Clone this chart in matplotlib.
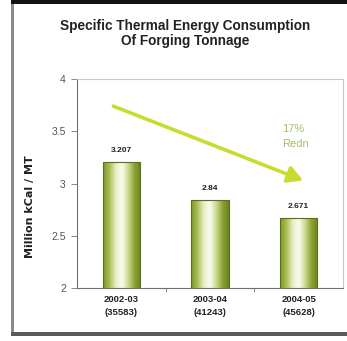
import matplotlib.pyplot as plt
import numpy as np
from matplotlib.colors import LinearSegmentedColormap
from matplotlib.patches import Rectangle

# Данные
years = ['2002-03\n(35583)', '2003-04\n(41243)', '2004-05\n(45628)']
consumption = [3.207, 2.84, 2.671]
value_labels = ['3.207', '2.84', '2.671']

W, H = 347, 341
fig = plt.figure(figsize=(W / 100, H / 100), dpi=100)
fig.patch.set_facecolor('white')
plt.rcParams['font.family'] = ['Liberation Sans', 'DejaVu Sans']

# рамка вокруг картинки
fig.add_artist(Rectangle((11 / W, 1 - 4 / H), 1 - 11 / W, 4 / H,
                         transform=fig.transFigure, color='#111111', lw=0))
fig.add_artist(Rectangle((11 / W, 5 / H), 2.5 / W, 1 - 9 / H,
                         transform=fig.transFigure, color='#8a8a8a', lw=0))
fig.add_artist(Rectangle((11 / W, 5 / H), 1 - 11 / W, 4 / H,
                         transform=fig.transFigure, color='#5a5a5a', lw=0))

ax = fig.add_axes([77 / W, (H - 288) / H, (343 - 77) / W, (288 - 79) / H])
x = np.arange(len(years))
bar_width = 0.42

bars = ax.bar(x, consumption, bar_width, bottom=0, color='none',
              edgecolor='#5b6e1c', linewidth=0.8, zorder=3)

# цилиндрическая заливка столбцов
cmap = LinearSegmentedColormap.from_list(
    'olive', ['#7d962a', '#a9bd52', '#e6edc4', '#fbfcf2', '#cbd98e', '#8ba332', '#6a8222'])
grad = np.linspace(0, 1, 256).reshape(1, -1)
for rect in bars:
    bx, bw, bh = rect.get_x(), rect.get_width(), rect.get_height()
    im = ax.imshow(grad, cmap=cmap, aspect='auto', extent=(bx, bx + bw, 2, bh),
                   zorder=2, interpolation='bicubic')
    im.set_clip_path(rect)

for xi, val, lab in zip(x, consumption, value_labels):
    ax.text(xi, val + 0.08, lab, ha='center', va='bottom', fontsize=6,
            fontweight='bold', color='#222222')

ax.set_xlim(-0.5, 2.5)
ax.set_ylim(2, 4)
ax.set_yticks([2, 2.5, 3, 3.5, 4])
ax.set_yticklabels(['2', '2.5', '3', '3.5', '4'])
ax.set_xticks([0.5, 1.5])
ax.set_xticklabels([])
ax.tick_params(axis='y', length=4, width=0.6, color='#777777', labelsize=7.5,
               labelcolor='#555555', pad=4)
ax.tick_params(axis='x', length=3, width=0.6, color='#777777')
for xi, lab in zip(x, years):
    ax.text(xi, 1.93, lab, ha='center', va='top', fontsize=6.8, fontweight='bold',
            color='#222222', linespacing=1.5)

for side in ['top', 'right']:
    ax.spines[side].set_color('#c8c8c8')
    ax.spines[side].set_linewidth(0.8)
for side in ['left', 'bottom']:
    ax.spines[side].set_color('#707070')
    ax.spines[side].set_linewidth(0.8)

ax.set_ylabel('Million kCal / MT', fontsize=8, fontweight='bold', color='#222222',
              family=['DejaVu Sans'])
ax.yaxis.set_label_coords(-0.158, 0.39)

# стрелка снижения
ax.annotate('', xy=(2.05, 3.03), xytext=(-0.09, 3.74),
            arrowprops=dict(arrowstyle='-|>,head_length=0.9,head_width=0.5',
                            color='#c8dc30', lw=2.6, shrinkA=0, shrinkB=0), zorder=4)
ax.text(1.81, 3.45, '17%\nRedn', ha='left', va='center', fontsize=8,
        color='#a3c06a', linespacing=1.6)

fig.text(185 / W, 1 - 26 / H, 'Specific Thermal Energy Consumption',
         ha='center', va='center', fontsize=9.8, fontweight='bold', color='#222222')
fig.text(185 / W, 1 - 41 / H, 'Of Forging Tonnage',
         ha='center', va='center', fontsize=9.8, fontweight='bold', color='#222222')

plt.savefig('out.png', dpi=100)
